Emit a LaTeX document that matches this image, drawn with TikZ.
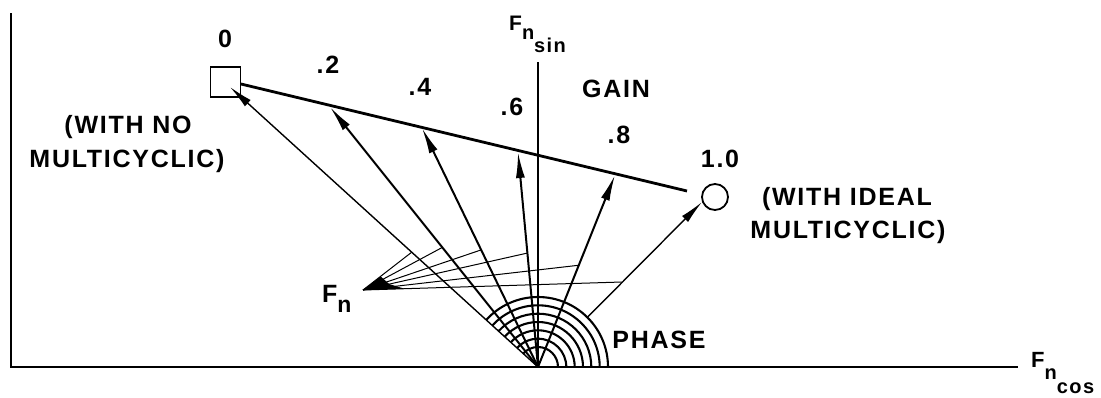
\documentclass[tikz,border=0pt]{standalone}
\usepackage{fontspec}
\setmainfont[LetterSpace=7]{Liberation Sans}
\usetikzlibrary{arrows.meta,calc}
\newcommand{\FnSub}[5]{{\fontsize{#1}{#1}\selectfont F}\raisebox{-#3pt}{{\fontsize{#2}{#2}\selectfont n}\raisebox{-#4pt}{\fontsize{#2}{#2}\selectfont #5}}}
\begin{document}
\begin{tikzpicture}[x=1pt,y=-1pt,
  lbl/.style={font=\fontsize{25}{28}\selectfont\bfseries, inner sep=0pt, anchor=base},
  axisline/.style={line width=2.2pt},
  gainline/.style={line width=2.8pt},
  vecthick/.style={line width=2pt, -{Latex[length=26pt,width=9pt]}},
  vecthin/.style={line width=1.4pt, -{Latex[length=24pt,width=8.5pt]}},
  fanline/.style={line width=1pt},
  arcline/.style={line width=2.1pt}]
\useasboundingbox (0,0) rectangle (1101,397);

% axes
\coordinate (O) at (538,367);
\coordinate (LT) at (11,13);
\coordinate (LB) at (11,367);
\coordinate (XE) at (1018,367);
\coordinate (YT) at (538,62);
\draw[axisline] (LT) -- (LB) -- (XE);
\draw[axisline] (O) -- (YT);

% gain line and end markers
\node[draw, line width=1.8pt, minimum width=30pt, minimum height=30pt, inner sep=0pt] (sq) at (225.5,82) {};
\node[draw, circle, line width=1.8pt, minimum size=26pt, inner sep=0pt] (cir) at (715,197) {};
\coordinate (g0) at (241,84);
\coordinate (g1) at (687,191);
\draw[gainline] (g0) -- (g1);

% arrow tips
\coordinate (t0) at (230,87);
\coordinate (t1) at (330,107);
\coordinate (t2) at (422,128);
\coordinate (t3) at (518,152);
\coordinate (t4) at (615,175);
\coordinate (t5) at (702,202);

% phase arcs
\foreach \r in {20,28.3,36.7,45,53.3,61.7,70}{
  \draw[arcline] ($(O)+(\r,0)$) arc[start angle=0, end angle=-137.7, radius=\r];
}

% vectors
\draw[vecthin] (O) -- (t0);
\draw[vecthick] (O) -- (t1);
\draw[vecthick] (O) -- (t2);
\draw[vecthick] (O) -- (t3);
\draw[vecthick] (O) -- (t4);
\coordinate (s5) at ($(O)!70pt!(t5)$);
\draw[vecthin] (s5) -- (t5);

% F_n fan
\coordinate (Fn) at (363,290);
\coordinate (f0) at ($(O)!0.41!(t0)$);
\coordinate (f1) at ($(O)!0.46!(t1)$);
\coordinate (f2) at ($(O)!0.49!(t2)$);
\coordinate (f3) at ($(O)!0.53!(t3)$);
\coordinate (f4) at ($(O)!0.53!(t4)$);
\coordinate (f5) at (622,282);
\foreach \f in {f0,f1,f2,f3,f4,f5}{
  \draw[fanline] (Fn) -- (\f);
}
\fill (Fn) -- ($(Fn)!0.36!(f0)$) -- ($(Fn)!0.16!(f3)$) -- ($(Fn)!0.16!(f5)$) -- cycle;

% labels
\node[lbl] (l0) at (225,47) {0};
\node[lbl] (l2) at (328,73) {.2};
\node[lbl] (l4) at (420,95) {.4};
\node[lbl] (l6) at (512,115) {.6};
\node[lbl] (l8) at (619,143) {.8};
\node[lbl] (l10) at (720,167) {1.0};
\node[lbl] (gain) at (616,97) {GAIN};
\node[lbl] (phase) at (659,348) {PHASE};
\node[lbl] (nm1) at (128,133) {(WITH NO};
\node[lbl] (nm2) at (127,167) {MULTICYCLIC)};
\node[lbl] (im1) at (847,205) {(WITH IDEAL};
\node[lbl] (im2) at (848,238) {MULTICYCLIC)};
\node[inner sep=0pt, anchor=base west, font=\bfseries] (fsin) at (509,30) {\FnSub{21}{20}{9}{13}{sin}};
\node[inner sep=0pt, anchor=base west, font=\bfseries] (fnl) at (322,302) {\FnSub{25}{23}{10}{0}{}};
\node[inner sep=0pt, anchor=base west, font=\bfseries] (fcos) at (1031,367) {\FnSub{22}{20}{12}{14}{cos}};
\end{tikzpicture}
\end{document}
